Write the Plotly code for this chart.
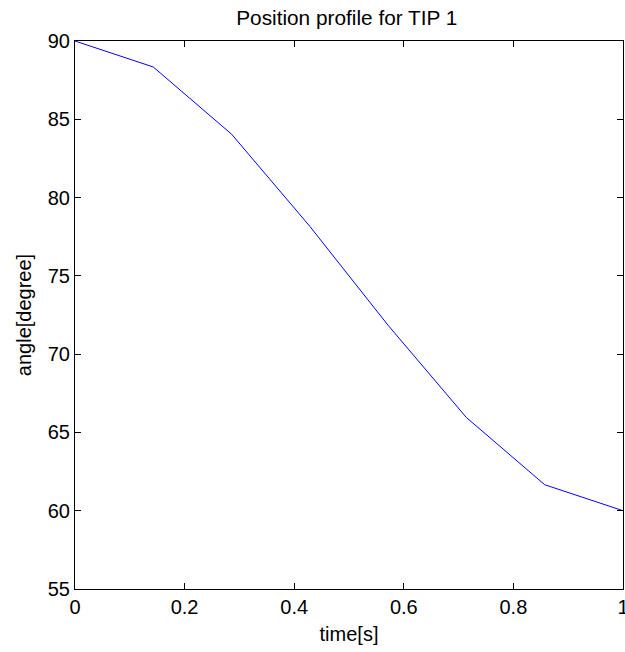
import plotly.graph_objects as go

time_s = [0, 1/7, 2/7, 3/7, 4/7, 5/7, 6/7, 1]
angle_deg = [90.0, 88.34, 84.05, 78.16, 71.84, 65.95, 61.66, 60.0]

x_ticks = [0, 0.2, 0.4, 0.6, 0.8, 1]
x_tick_text = ["0", "0.2", "0.4", "0.6", "0.8", "1"]
y_ticks = [55, 60, 65, 70, 75, 80, 85, 90]

font = dict(family="Liberation Sans, Arial, sans-serif", size=20, color="black")

fig = go.Figure()
fig.add_trace(go.Scatter(x=time_s, y=angle_deg, mode="lines",
                         line=dict(color="#0000FF", width=1), showlegend=False))

axis_common = dict(showline=True, linecolor="black", linewidth=1, mirror="allticks",
                   ticks="inside", ticklen=6, tickcolor="black", tickwidth=1,
                   showgrid=False, zeroline=False, tickfont=font,
                   ticklabeloverflow="allow", automargin=False)

fig.update_layout(
    width=625, height=652,
    margin=dict(l=75, r=2, t=41, b=63),
    paper_bgcolor="white", plot_bgcolor="white",
    font=font,
    title=dict(text="Position profile for TIP 1", xref="paper", x=0.496, xanchor="center",
               yref="container", y=1 - 25/652, yanchor="bottom",
               font=dict(size=20.8, family=font["family"], color="black")),
    xaxis=dict(range=[0, 1], tickvals=x_ticks, ticktext=x_tick_text,
               title=dict(text="time[s]", font=font, standoff=9), **axis_common),
    yaxis=dict(range=[55, 90], tickvals=y_ticks,
               title=dict(text="angle[degree]", font=font, standoff=10), **axis_common),
)

fig.write_html("out.html")
